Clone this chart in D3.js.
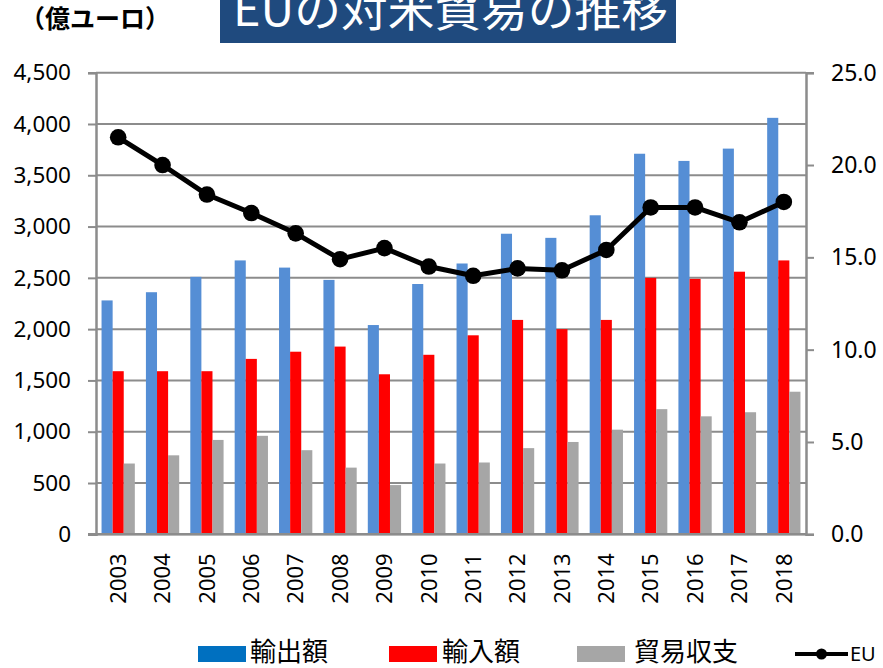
<!DOCTYPE html>
<html>
<head>
<meta charset="utf-8">
<script src="https://cdn.jsdelivr.net/npm/d3@7"></script>
<style>
  html, body { margin: 0; padding: 0; background: #fff; }
  svg { display: block; }
</style>
</head>
<body>
<div id="chart"></div>
<script>
const years = ["2003","2004","2005","2006","2007","2008","2009","2010","2011","2012","2013","2014","2015","2016","2017","2018"];
const exportsEU = [2280,2360,2510,2670,2600,2480,2040,2440,2640,2930,2890,3110,3710,3640,3760,4060];
const importsEU = [1590,1590,1590,1710,1780,1830,1560,1750,1940,2090,2000,2090,2500,2490,2560,2670];
const balanceEU = [690,770,920,960,820,650,480,690,700,840,900,1020,1220,1150,1190,1390];
const euShare = [21.5,20.0,18.4,17.4,16.3,14.9,15.5,14.5,14.0,14.4,14.3,15.4,17.7,17.7,16.9,18.0];
const leftTicks = [0,500,1000,1500,2000,2500,3000,3500,4000,4500];
const rightTicks = [0,5,10,15,20,25];
const seriesNames = ["輸出額","輸入額","貿易収支"];
const lineName = "EU";
const titleText = "EUの対米貿易の推移";
const unitText = "（億ユーロ）";

const W = 883, H = 668;
const plot = {left: 96, right: 806, top: 72.7, bottom: 534.3};
const barColors = ["#558ED5", "#FF0000", "#A6A6A6"];
const legendColors = ["#0070C0", "#FF0000", "#A6A6A6"];
const gridColor = "#8C8C8C";
const numFont = "'Noto Sans', 'DejaVu Sans', sans-serif";
const cjkFont = "'Noto Sans CJK JP', 'Noto Sans', sans-serif";

const svg = d3.select("#chart").append("svg").attr("width", W).attr("height", H);

const x0 = d3.scaleBand().domain(years).range([plot.left, plot.right]).paddingInner(0.25).paddingOuter(0.125);
const x1 = d3.scaleBand().domain(d3.range(3)).range([0, x0.bandwidth()]).padding(0);
const yL = d3.scaleLinear().domain([0, 4500]).range([plot.bottom, plot.top]);
const yR = d3.scaleLinear().domain([0, 25]).range([plot.bottom, plot.top]);

// gridlines
svg.append("g").selectAll("line").data(leftTicks).join("line")
  .attr("x1", plot.left).attr("x2", plot.right)
  .attr("y1", d => yL(d)).attr("y2", d => yL(d))
  .attr("stroke", gridColor).attr("stroke-width", 2);

// left axis
const gL = svg.append("g").attr("transform", `translate(${plot.left},0)`)
  .call(d3.axisLeft(yL).tickValues(leftTicks).tickFormat(d3.format(",")).tickSize(8).tickPadding(17));
gL.select(".domain").attr("stroke", gridColor).attr("stroke-width", 2.5);
gL.selectAll(".tick line").attr("stroke", gridColor).attr("stroke-width", 2);
gL.selectAll(".tick text").attr("font-family", numFont).attr("font-size", 22.5).attr("fill", "#000");

// right axis
const gR = svg.append("g").attr("transform", `translate(${plot.right},0)`)
  .call(d3.axisRight(yR).tickValues(rightTicks).tickFormat(d3.format(".1f")).tickSize(8).tickPadding(17));
gR.select(".domain").attr("stroke", gridColor).attr("stroke-width", 2.5);
gR.selectAll(".tick line").attr("stroke", gridColor).attr("stroke-width", 2);
gR.selectAll(".tick text").attr("font-family", numFont).attr("font-size", 23).attr("fill", "#000");

// bars
const series = [exportsEU, importsEU, balanceEU];
const rows = years.map((y, i) => ({year: y, vals: series.map(s => s[i])}));
const groups = svg.append("g").selectAll("g").data(rows).join("g")
  .attr("transform", d => `translate(${x0(d.year)},0)`);
groups.selectAll("rect").data(d => d.vals.map((v, k) => ({k, v}))).join("rect")
  .attr("x", d => x1(d.k)).attr("width", x1.bandwidth())
  .attr("y", d => yL(d.v)).attr("height", d => yL(0) - yL(d.v))
  .attr("fill", d => barColors[d.k]);

// bottom axis
const gB = svg.append("g").attr("transform", `translate(0,${plot.bottom})`)
  .call(d3.axisBottom(x0).tickSize(0).tickPadding(0));
gB.select(".domain").attr("stroke", gridColor).attr("stroke-width", 2.5)
  .attr("d", `M${plot.left - 8},0H${plot.right}`);
gB.selectAll(".tick text")
  .attr("font-family", numFont).attr("font-size", 22).attr("fill", "#000")
  .attr("transform", "rotate(-90)")
  .attr("text-anchor", "end")
  .attr("dy", "0.35em")
  .attr("x", -19).attr("y", 0);

// line
const pts = years.map((y, i) => [x0(y) + x0.bandwidth() / 2, yR(euShare[i])]);
svg.append("path").attr("d", d3.line()(pts))
  .attr("fill", "none").attr("stroke", "#000").attr("stroke-width", 5).attr("stroke-linejoin", "round");
svg.append("g").selectAll("circle").data(pts).join("circle")
  .attr("cx", d => d[0]).attr("cy", d => d[1]).attr("r", 8.3).attr("fill", "#000");

// title
svg.append("rect").attr("x", 220).attr("y", 0).attr("width", 456).attr("height", 43).attr("fill", "#1F4A7E");
svg.append("text").attr("x", 233).attr("y", 26)
  .attr("font-family", cjkFont).attr("font-size", 46).attr("fill", "#fff")
  .attr("textLength", 435).attr("lengthAdjust", "spacingAndGlyphs")
  .text(titleText);

// unit
svg.append("text").attr("x", 20).attr("y", 28)
  .attr("font-family", cjkFont).attr("font-size", 25).attr("font-weight", "bold").attr("fill", "#000")
  .text(unitText);

// legend
const legendItems = [
  {name: seriesNames[0], color: legendColors[0], rx: 198, tx: 250},
  {name: seriesNames[1], color: legendColors[1], rx: 389, tx: 442},
  {name: seriesNames[2], color: legendColors[2], rx: 577, tx: 634}
];
const lg = svg.append("g");
legendItems.forEach(it => {
  lg.append("rect").attr("x", it.rx).attr("y", 646).attr("width", 48).attr("height", 16).attr("fill", it.color);
  lg.append("text").attr("x", it.tx).attr("y", 661)
    .attr("font-family", cjkFont).attr("font-size", 26).attr("fill", "#000").text(it.name);
});
lg.append("line").attr("x1", 795).attr("x2", 848).attr("y1", 654).attr("y2", 654)
  .attr("stroke", "#000").attr("stroke-width", 4);
lg.append("circle").attr("cx", 821.5).attr("cy", 654).attr("r", 5.5).attr("fill", "#000");
lg.append("text").attr("x", 850).attr("y", 661)
  .attr("font-family", numFont).attr("font-size", 20).attr("fill", "#000").text(lineName);
</script>
</body>
</html>
